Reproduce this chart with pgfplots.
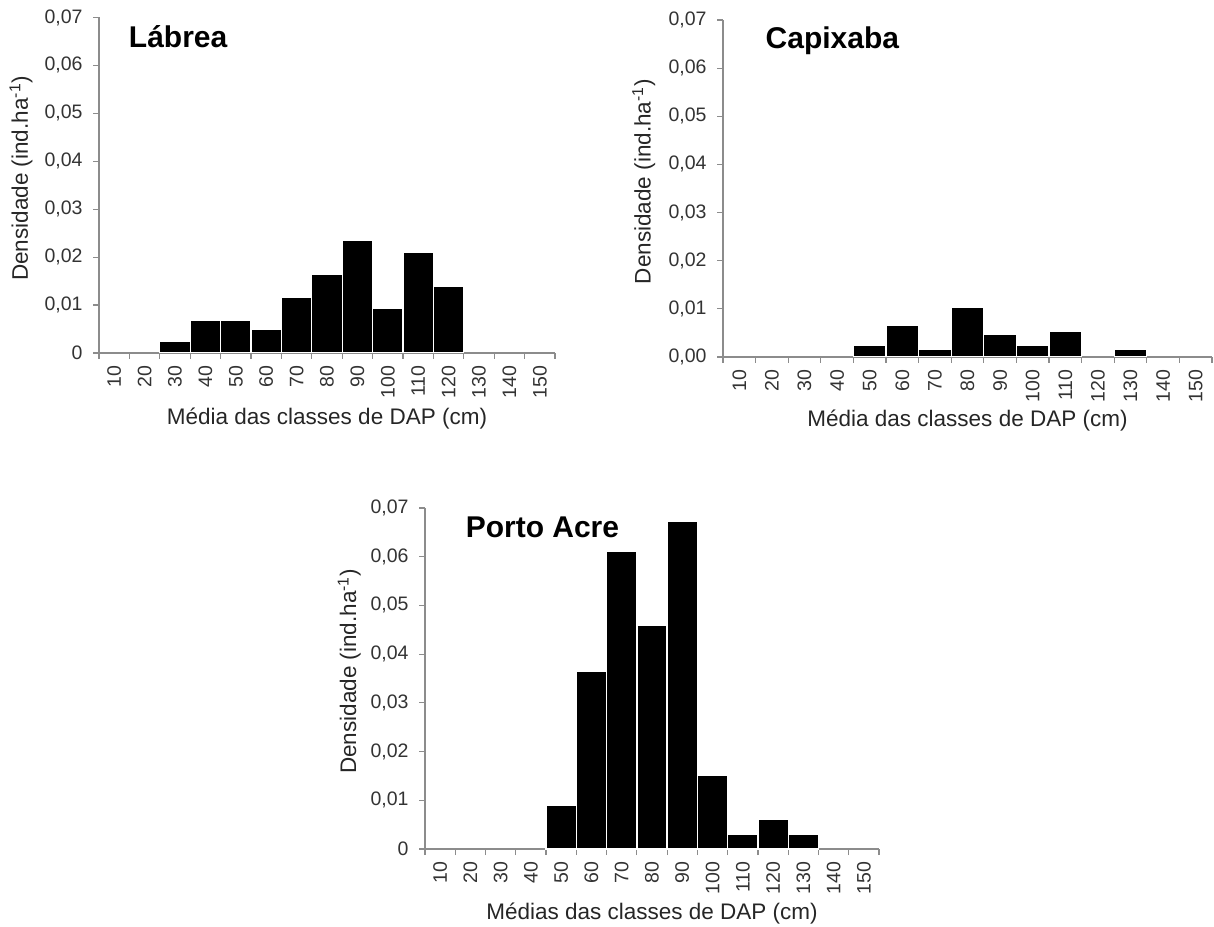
\documentclass[border=0pt]{standalone}
\usepackage{fontspec}
\setmainfont{Liberation Sans}
\usepackage{pgfplots}
\pgfplotsset{compat=1.18}

\pgfplotsset{
  hist/.style={
    scale only axis,
    anchor=south west,
    ymin=0, ymax=0.07,
    xmin=-0.5, xmax=14.5,
    axis x line*=bottom, axis y line*=left,
    axis line style={draw=black!45, line width=1.2pt},
    tick align=outside,
    scaled y ticks=false,
    xtick={0,...,14},
    xticklabels={10,20,30,40,50,60,70,80,90,100,110,120,130,140,150},
    minor xtick={-0.5,0.5,1.5,2.5,3.5,4.5,5.5,6.5,7.5,8.5,9.5,10.5,11.5,12.5,13.5,14.5},
    ytick={0,0.01,0.02,0.03,0.04,0.05,0.06,0.07},
    minor ytick={0,0.01,0.02,0.03,0.04,0.05,0.06,0.07},
    major tick length=0pt,
    minor tick length=6pt,
    tick style={draw=black!45, line width=1.2pt},
    tick label style={font=\fontsize{19.5}{19.5}\selectfont, text=black!80},
    x tick label style={rotate=90, anchor=east},
    xticklabel shift=9pt,
    yticklabel shift=13pt,
    label style={font=\fontsize{22.5}{22.5}\selectfont, text=black!85},
    ybar, bar width=1,
    ylabel={Densidade (ind.ha\textsuperscript{-1})},
  },
  bars/.style={fill=black, draw=white, line width=1.3pt},
}

\begin{document}
\begin{tikzpicture}
\useasboundingbox (0,0) rectangle (1214pt,926pt);

% Lábrea
\begin{axis}[hist, at={(99pt,573pt)}, width=456pt, height=335.5pt,
  yticklabels={0,{0,01},{0,02},{0,03},{0,04},{0,05},{0,06},{0,07}},
  xlabel={Média das classes de DAP (cm)},
  xlabel style={at={(axis description cs:0.5,-0.194)}, anchor=center},
  ylabel style={at={(axis description cs:-0.171,0.52)}, anchor=center},
]
\addplot[bars] coordinates {(2,0.0025) (3,0.0069) (4,0.0069) (5,0.0049) (6,0.0116) (7,0.0164) (8,0.0236) (9,0.0093) (10,0.0211) (11,0.0140)};
\node[anchor=west, font=\fontsize{30}{30}\selectfont\bfseries] at (rel axis cs:0.058,0.942) {Lábrea};
\end{axis}

% Capixaba
\begin{axis}[hist, at={(723pt,569pt)}, width=489pt, height=337pt,
  yticklabels={{0,00},{0,01},{0,02},{0,03},{0,04},{0,05},{0,06},{0,07}},
  xlabel={Média das classes de DAP (cm)},
  xlabel style={at={(axis description cs:0.5,-0.19)}, anchor=center},
  ylabel style={at={(axis description cs:-0.162,0.52)}, anchor=center},
]
\addplot[bars] coordinates {(4,0.0024) (5,0.0066) (6,0.0016) (7,0.0104) (8,0.0046) (9,0.0024) (10,0.0054) (12,0.0016)};
\node[anchor=west, font=\fontsize{30}{30}\selectfont\bfseries] at (rel axis cs:0.08,0.938) {Capixaba};
\end{axis}

% Porto Acre
\begin{axis}[hist, at={(425pt,77pt)}, width=454pt, height=341pt,
  yticklabels={0,{0,01},{0,02},{0,03},{0,04},{0,05},{0,06},{0,07}},
  xlabel={Médias das classes de DAP (cm)},
  xlabel style={at={(axis description cs:0.5,-0.188)}, anchor=center},
  ylabel style={at={(axis description cs:-0.167,0.52)}, anchor=center},
]
\addplot[bars] coordinates {(4,0.0089) (5,0.0365) (6,0.0611) (7,0.0459) (8,0.0672) (9,0.0151) (10,0.0030) (11,0.0060) (12,0.0030)};
\node[anchor=west, font=\fontsize{30}{30}\selectfont\bfseries] at (rel axis cs:0.082,0.944) {Porto Acre};
\end{axis}
\end{tikzpicture}
\end{document}
